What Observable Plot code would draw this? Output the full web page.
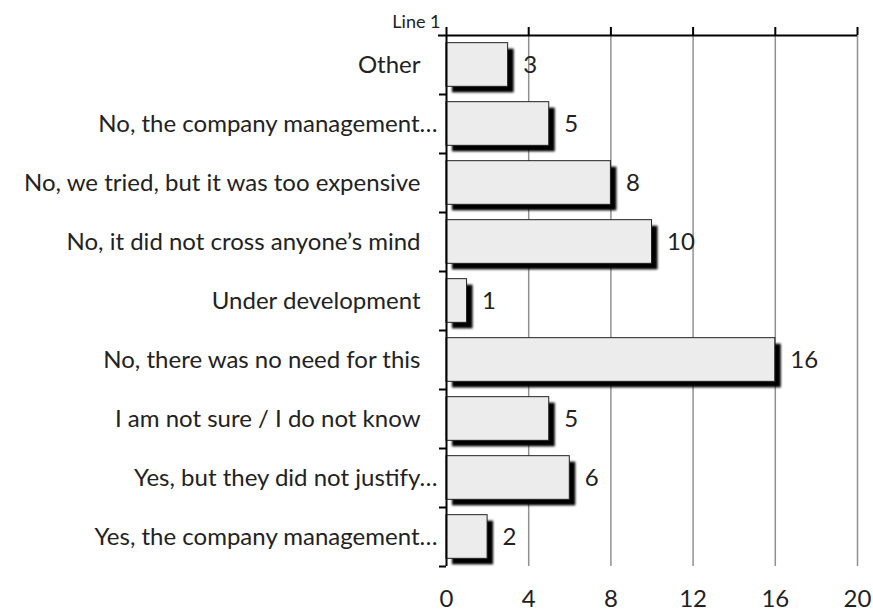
<!DOCTYPE html>
<html><head><meta charset="utf-8">
<script src="https://cdn.jsdelivr.net/npm/d3@7"></script>
<script src="https://cdn.jsdelivr.net/npm/@observablehq/plot@0.6"></script>
<style>body{margin:0;background:#fff}</style>
</head><body><div id="chart"></div>
<script>
const categories = [
  "Other",
  "No, the company management…",
  "No, we tried, but it was too expensive",
  "No, it did not cross anyone’s mind",
  "Under development",
  "No, there was no need for this",
  "I am not sure / I do not know",
  "Yes, but they did not justify…",
  "Yes, the company management…"
];
const values = [3, 5, 8, 10, 1, 16, 5, 6, 2];
const xTicks = [0, 4, 8, 12, 16, 20];
const axisTitle = "Line 1";

const data = categories.map((c, i) => ({category: c, value: values[i]}));
const W = 873, H = 614, mL = 446, mR = 16, mT = 35, mB = 48;
const n = categories.length;
const step = (H - mT - mB) / n;
const trunc = categories.filter(c => c.endsWith("…"));
const full = categories.filter(c => !c.endsWith("…"));

const chart = Plot.plot({
  width: W, height: H,
  marginLeft: mL, marginRight: mR, marginTop: mT, marginBottom: mB,
  style: {fontFamily: "Lato, sans-serif", fontSize: "24px", color: "#222", background: "#fff"},
  x: {domain: [0, 20], ticks: xTicks},
  y: {domain: categories, paddingInner: 0.26, paddingOuter: 0.13, round: false, axis: null},
  marks: [
    Plot.ruleX(xTicks.filter(t => t > 0), {x: d => d, stroke: "#919191", strokeWidth: 1.5}),
    Plot.barX(data, {x: "value", y: "category", fill: "black", dx: 6, dy: 6}),
    Plot.barX(data, {x: "value", y: "category", fill: "#ececec", stroke: "#222", strokeWidth: 1}),
    Plot.ruleX([0], {x: d => d, stroke: "black", strokeWidth: 2}),
    Plot.ruleY(categories.slice(0, 1), {y: d => d, dy: -step / 2, insetLeft: -8, stroke: "black", strokeWidth: 2}),
    Plot.ruleY(categories.slice(1), {y: d => d, x1: 0, x2: 0, dy: -step / 2, insetLeft: -7, stroke: "black", strokeWidth: 2}),
    Plot.ruleY(categories.slice(-1), {y: d => d, x1: 0, x2: 0, dy: step / 2, insetLeft: -7, stroke: "black", strokeWidth: 2}),
    Plot.ruleX(xTicks, {x: d => d, insetTop: -8, insetBottom: H - mT - mB, stroke: "black", strokeWidth: 2}),
    Plot.axisX({anchor: "bottom", ticks: xTicks, tickSize: 0, tickPadding: 23, label: null}),
    Plot.text(data, {x: "value", y: "category", text: d => String(d.value), textAnchor: "start", dx: 15}),
    Plot.text(full, {y: d => d, text: d => d, frameAnchor: "left", textAnchor: "end", dx: -26}),
    Plot.text(trunc, {y: d => d, text: d => d, frameAnchor: "left", textAnchor: "end", dx: -9}),
    Plot.text([axisTitle], {text: d => d, frameAnchor: "top-left", textAnchor: "end", lineAnchor: "middle", dx: -6, dy: -13, fontSize: 18})
  ]
});
const shadow = chart.querySelector('g[aria-label="bar"]');
if (shadow) shadow.style.filter = "blur(0.8px)";
document.getElementById("chart").appendChild(chart);
</script>
</body></html>
